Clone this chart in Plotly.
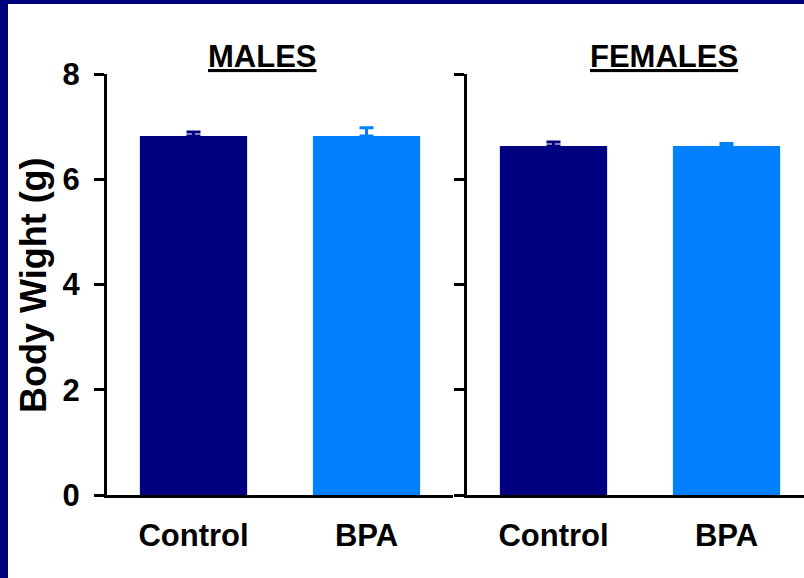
import plotly.graph_objects as go

# Body weight (g) by treatment group, mean and SE
groups = ["Control", "BPA"]
male_mean = [6.82, 6.82]
male_se = [0.08, 0.16]
female_mean = [6.63, 6.63]
female_se = [0.08, 0.05]
y_ticks = [0, 2, 4, 6, 8]
panel_titles = ["MALES", "FEMALES"]
y_title = "Body Wight (g)"

W, H = 804, 578
bar_colors = ["#000080", "#0080FF"]
font_family = "Liberation Sans, Arial, sans-serif"


def px_x(p):
    return p / W


def px_y(p):
    return 1 - p / H


fig = go.Figure()

for means, ses, xa, ya in [(male_mean, male_se, "x", "y"), (female_mean, female_se, "x2", "y2")]:
    for i, g in enumerate(groups):
        fig.add_trace(go.Bar(
            x=[g], y=[means[i]], xaxis=xa, yaxis=ya,
            width=0.62,
            marker=dict(color=bar_colors[i], line=dict(width=0)),
            error_y=dict(type="data", array=[ses[i]], symmetric=False, arrayminus=[0],
                         color=bar_colors[i], thickness=3, width=7),
            showlegend=False,
        ))

y_dom = [px_y(495), px_y(74)]
axis_common = dict(showline=True, linecolor="black", linewidth=3, showgrid=False, zeroline=False)
label_font = dict(family=font_family, size=31, color="black", weight="bold")

fig.update_layout(
    width=W, height=H,
    margin=dict(l=0, r=0, t=0, b=0, pad=0),
    paper_bgcolor="white",
    plot_bgcolor="rgba(0,0,0,0)",
    xaxis=dict(domain=[px_x(107), px_x(453)], type="category", categoryorder="array",
               categoryarray=groups, range=[-0.5, 1.5], ticks="",
               tickfont=label_font, ticklabelstandoff=11, automargin=False, **axis_common),
    yaxis=dict(domain=y_dom, range=[0, 8], tickvals=y_ticks, ticks="outside", ticklen=10,
               tickwidth=3, tickcolor="black", tickfont=label_font,
               ticklabelstandoff=8, automargin=False, **axis_common),
    xaxis2=dict(domain=[px_x(467), 1], type="category", categoryorder="array",
                categoryarray=groups, range=[-0.5, 1.448], ticks="",
                tickfont=label_font, ticklabelstandoff=11, anchor="y2", automargin=False,
                **axis_common),
    yaxis2=dict(domain=y_dom, range=[0, 8], tickvals=y_ticks, ticks="outside", ticklen=10,
                tickwidth=3, tickcolor="black", showticklabels=False, anchor="x2",
                automargin=False, **axis_common),
)

# Panel titles
for title, cx in zip(panel_titles, [262, 664]):
    fig.add_annotation(text=f"<u>{title}</u>", xref="paper", yref="paper",
                       x=px_x(cx), y=px_y(57), xanchor="center", yanchor="middle",
                       showarrow=False, font=dict(family=font_family, size=31, color="black",
                                                  weight="bold"))

# Y axis title
fig.add_annotation(text=y_title, xref="paper", yref="paper", x=px_x(33), y=px_y(285),
                   xanchor="center", yanchor="middle", textangle=-90, showarrow=False,
                   font=dict(family=font_family, size=36, color="black", weight="bold"))

# Navy frame along the left and top edges
fig.add_shape(type="rect", xref="paper", yref="paper", x0=0, x1=px_x(8), y0=0, y1=1,
              fillcolor="#000080", line=dict(width=0), layer="above")
fig.add_shape(type="rect", xref="paper", yref="paper", x0=0, x1=1, y0=px_y(4), y1=1,
              fillcolor="#000080", line=dict(width=0), layer="above")

fig.write_html("out.html")
